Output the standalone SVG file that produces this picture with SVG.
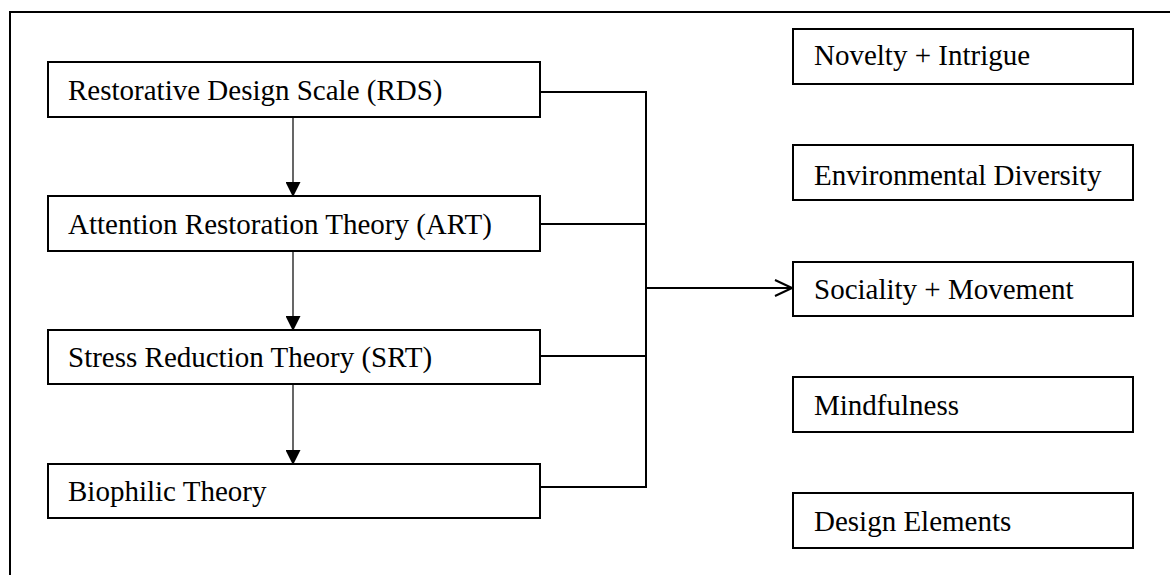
<svg xmlns="http://www.w3.org/2000/svg" width="1170" height="575" viewBox="0 0 1170 575">
<style>
.box{fill:#fff;stroke:#000;stroke-width:2}
.c{fill:none;stroke:#000;stroke-width:2}
.v{fill:none;stroke:#000;stroke-width:1.2}
</style>
<defs>
<marker id="tri" markerWidth="15" markerHeight="15" refX="14" refY="7.5" orient="auto" markerUnits="userSpaceOnUse">
<path d="M0,0 L15,7.5 L0,15 Z" fill="#000"/>
</marker>
<marker id="open" markerWidth="20" markerHeight="18" refX="18" refY="9" orient="auto" markerUnits="userSpaceOnUse">
<path d="M1,1 L18,9 L1,17" fill="none" stroke="#000" stroke-width="2"/>
</marker>
</defs>
<rect width="1170" height="575" fill="#fff"/>
<path d="M10,575 L10,12 L1170,12" fill="none" stroke="#000" stroke-width="2"/>
<g id="connectors">
<line class="v" x1="293" y1="117" x2="293" y2="196" marker-end="url(#tri)"/>
<line class="v" x1="293" y1="251" x2="293" y2="330" marker-end="url(#tri)"/>
<line class="v" x1="293" y1="384" x2="293" y2="464" marker-end="url(#tri)"/>
<path class="c" d="M540,92 H646 V487 H540"/>
<line class="c" x1="540" y1="224" x2="646" y2="224"/>
<line class="c" x1="540" y1="356" x2="646" y2="356"/>
<line class="c" x1="646" y1="288" x2="792" y2="288" marker-end="url(#open)"/>
</g>
<g font-family="'Liberation Serif', 'Times New Roman', serif" font-size="29" fill="#000">
<g id="rds"><rect class="box" x="48" y="62" width="492" height="55"/><text x="68" y="100">Restorative Design Scale (RDS)</text></g>
<g id="art"><rect class="box" x="48" y="196" width="492" height="55"/><text x="68" y="234">Attention Restoration Theory (ART)</text></g>
<g id="srt"><rect class="box" x="48" y="330" width="492" height="54"/><text x="68" y="367">Stress Reduction Theory (SRT)</text></g>
<g id="bio"><rect class="box" x="48" y="464" width="492" height="54"/><text x="68" y="501">Biophilic Theory</text></g>
<g id="novelty"><rect class="box" x="793" y="29" width="340" height="55"/><text x="814" y="65">Novelty + Intrigue</text></g>
<g id="envdiv"><rect class="box" x="793" y="145" width="340" height="55"/><text x="814" y="185">Environmental Diversity</text></g>
<g id="social"><rect class="box" x="793" y="262" width="340" height="54"/><text x="814" y="299">Sociality + Movement</text></g>
<g id="mindful"><rect class="box" x="793" y="377" width="340" height="55"/><text x="814" y="415">Mindfulness</text></g>
<g id="design"><rect class="box" x="793" y="493" width="340" height="55"/><text x="814" y="531">Design Elements</text></g>
</g>
</svg>
